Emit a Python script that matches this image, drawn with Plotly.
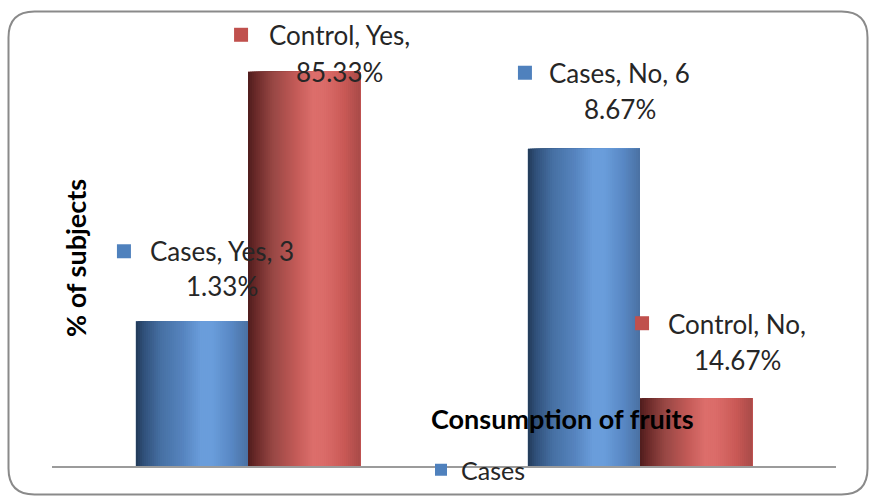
import plotly.graph_objects as go

# ---- data -------------------------------------------------------------
categories = ["Yes", "No"]
series_names = ["Cases", "Control"]
cases_pct = [31.33, 68.67]
control_pct = [85.33, 14.67]
# character index at which each data label wraps to a second line
label_breaks = {"Cases": [13, 12], "Control": [13, 12]}

# ---- styling ----------------------------------------------------------
W, H = 870, 497
BASELINE_PX = 466          # y pixel of the category axis
TOP_PX = 4                 # y pixel of the value-axis maximum
PLOT_L, PLOT_R = 52, 836
Y_MAX = 100
BAR_W = 0.286              # width of one bar in category units
N_STRIPS = 56              # vertical steps used for the cylinder shading

flat_colors = {"Cases": "#4f81bd", "Control": "#c0504d"}
shade_stops = {
    "Cases": [(0.00, "#223a58"), (0.07, "#30507a"), (0.22, "#4670a3"),
              (0.42, "#5684bf"), (0.58, "#6a9ddb"), (0.68, "#6a9ddb"),
              (0.86, "#5887c3"), (1.00, "#4a71a2")],
    "Control": [(0.00, "#4f1c1c"), (0.07, "#6a2a29"), (0.22, "#974744"),
                (0.42, "#c25a57"), (0.58, "#dc6e6b"), (0.68, "#db6c69"),
                (0.86, "#c95956"), (1.00, "#a94b49")],
}
TEXT_COLOR = "#262626"
FONT = "Lato, 'Open Sans', sans-serif"
LABEL_SIZE = 26
TITLE_SIZE = 27

# label placement, pixels relative to the top-centre of each bar
# (dx, dy) for the first text line; dy positive = upwards
label_line1 = {"Cases": [(30, 70), (36, 76)], "Control": [(35, 37), (41, 74)]}
label_gap = {"Cases": [35, 36], "Control": [37, 36]}
key_offset = {"Cases": [(-68, 70), (-59, 76)], "Control": [(-63, 37), (-54, 75)]}
KEY_HALF = 7


def hex_to_rgb(h):
    h = h.lstrip("#")
    return tuple(int(h[i:i + 2], 16) for i in (0, 2, 4))


def shade_at(stops, t):
    for (p0, c0), (p1, c1) in zip(stops, stops[1:]):
        if p0 <= t <= p1:
            f = 0 if p1 == p0 else (t - p0) / (p1 - p0)
            a, b = hex_to_rgb(c0), hex_to_rgb(c1)
            return "rgb({},{},{})".format(*[round(a[k] + (b[k] - a[k]) * f) for k in range(3)])
    return stops[-1][1]


x_pos = list(range(len(categories)))
values = {"Cases": cases_pct, "Control": control_pct}
base_offset = {"Cases": -BAR_W, "Control": 0.0}

fig = go.Figure()

# flat bars (these carry the legend entry)
for name in series_names:
    fig.add_trace(go.Bar(
        x=x_pos, y=values[name], name=name,
        width=[BAR_W] * len(x_pos), offset=[base_offset[name]] * len(x_pos),
        marker=dict(color=flat_colors[name], line=dict(width=0)),
        showlegend=(name == "Cases"), hoverinfo="skip",
    ))

# cylinder-style shading: each step starts a little further right and runs
# to the bar's right edge, so successive steps cover each other with no gaps
for name in series_names:
    sw = BAR_W / N_STRIPS
    for i in range(N_STRIPS):
        fig.add_trace(go.Bar(
            x=x_pos, y=values[name],
            width=[BAR_W - i * sw] * len(x_pos),
            offset=[base_offset[name] + i * sw] * len(x_pos),
            marker=dict(color=shade_at(shade_stops[name], (i + 0.5) / N_STRIPS),
                        line=dict(width=0)),
            showlegend=False,
            hovertemplate=f"{name}, %{{customdata}}: %{{y:.2f}}%<extra></extra>",
            customdata=categories,
        ))

# data labels with legend keys
annotations = []
shapes = []
for name in series_names:
    for j, cat in enumerate(categories):
        v = values[name][j]
        full = f"{name}, {cat}, {v:.2f}%"
        brk = label_breaks[name][j]
        line1, line2 = full[:brk].rstrip(), full[brk:].strip()
        bx = x_pos[j] + base_offset[name] + BAR_W / 2
        dx, dy = label_line1[name][j]
        for txt, sh in ((line1, dy), (line2, dy - label_gap[name][j])):
            annotations.append(dict(
                x=bx, y=v, xref="x", yref="y", text=txt, showarrow=False,
                xanchor="center", yanchor="middle", xshift=dx, yshift=sh,
                font=dict(family=FONT, size=LABEL_SIZE, color=TEXT_COLOR),
            ))
        kx, ky = key_offset[name][j]
        shapes.append(dict(
            type="rect", xref="x", yref="y", xsizemode="pixel", ysizemode="pixel",
            xanchor=bx, yanchor=v,
            x0=kx - KEY_HALF, x1=kx + KEY_HALF, y0=ky - KEY_HALF, y1=ky + KEY_HALF,
            fillcolor=flat_colors[name], line=dict(width=0), layer="above",
        ))

# axis titles
annotations.append(dict(
    x=562 / W, y=1 - 418 / H, xref="paper", yref="paper",
    text="<b>Consumption of fruits</b>", showarrow=False,
    xanchor="center", yanchor="middle",
    font=dict(family=FONT, size=TITLE_SIZE, color="#000000"),
))
annotations.append(dict(
    x=75 / W, y=1 - 258 / H, xref="paper", yref="paper",
    text="<b>% of subjects</b>", showarrow=False, textangle=-90,
    xanchor="center", yanchor="middle",
    font=dict(family=FONT, size=TITLE_SIZE, color="#000000"),
))

# rounded chart frame
fl, fr, ft, fb, r = 8.5, 867.5, 11.5, 494.5, 26


def px(x):
    return x / W


def py(y):
    return 1 - y / H


frame = (
    f"M {px(fl + r)},{py(ft)} L {px(fr - r)},{py(ft)} "
    f"Q {px(fr)},{py(ft)} {px(fr)},{py(ft + r)} "
    f"L {px(fr)},{py(fb - r)} Q {px(fr)},{py(fb)} {px(fr - r)},{py(fb)} "
    f"L {px(fl + r)},{py(fb)} Q {px(fl)},{py(fb)} {px(fl)},{py(fb - r)} "
    f"L {px(fl)},{py(ft + r)} Q {px(fl)},{py(ft)} {px(fl + r)},{py(ft)} Z"
)
shapes.append(dict(type="path", xref="paper", yref="paper", path=frame,
                   line=dict(color="#8a8a8a", width=2), layer="above"))

fig.update_layout(
    width=W, height=H,
    margin=dict(l=0, r=0, t=0, b=0),
    paper_bgcolor="white", plot_bgcolor="white",
    barmode="overlay",
    font=dict(family=FONT, color=TEXT_COLOR),
    xaxis=dict(
        domain=[PLOT_L / W, PLOT_R / W], range=[-0.5, len(categories) - 0.5],
        tickvals=x_pos, ticktext=categories, showticklabels=False,
        showgrid=False, zeroline=False, ticks="",
        showline=True, linecolor="#9b9b9b", linewidth=2,
    ),
    yaxis=dict(
        domain=[1 - BASELINE_PX / H, 1 - TOP_PX / H], range=[0, Y_MAX],
        showgrid=False, zeroline=False, showline=False,
        showticklabels=False, ticks="",
    ),
    legend=dict(
        x=421 / W, y=1 - 470 / H, xanchor="left", yanchor="middle",
        orientation="h", bgcolor="rgba(0,0,0,0)",
        font=dict(family=FONT, size=25, color=TEXT_COLOR),
    ),
    annotations=annotations,
    shapes=shapes,
)

fig.write_html("out.html")
